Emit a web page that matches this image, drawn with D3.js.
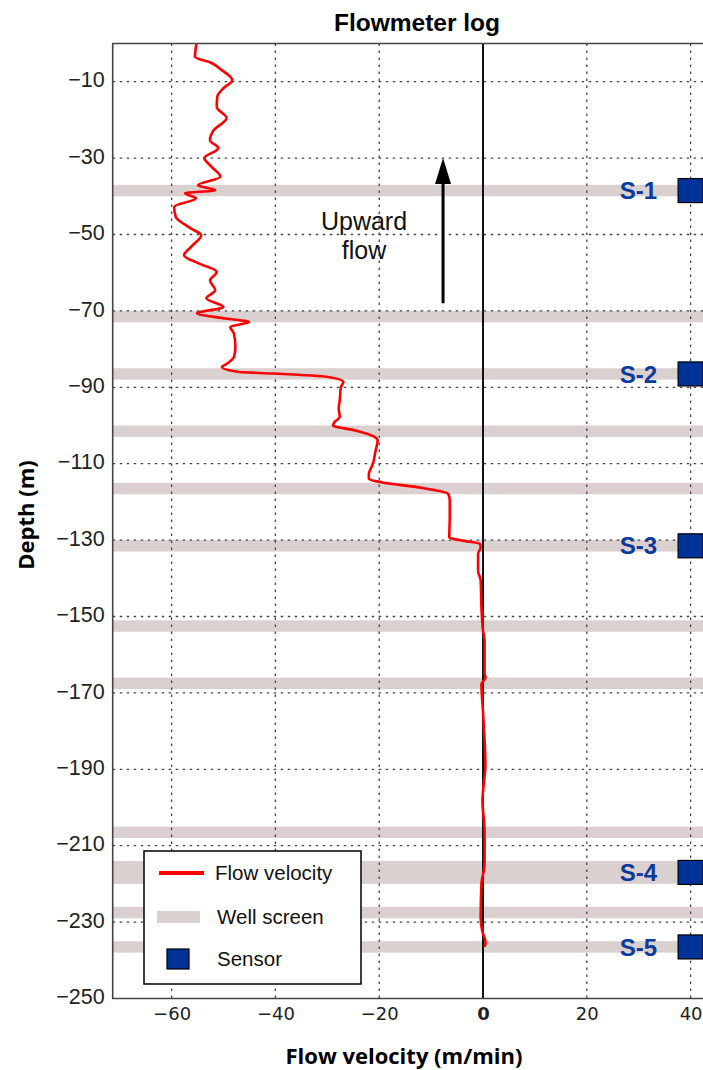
<!DOCTYPE html>
<html>
<head>
<meta charset="utf-8">
<script src="https://cdn.jsdelivr.net/npm/d3@7"></script>
<style>
  body { margin: 0; background: #fff; }
  svg { display: block; }
</style>
</head>
<body>
<svg id="chart" width="703" height="1070"></svg>
<script>
// Flowmeter profile: depth (m) and flow velocity (m/min)
const logDepth = [0, -3.5, -5.1, -6.9, -9.6, -11.7, -13.9, -16.6, -19.5, -22.7, -25.3, -27.4, -30.0, -32.3,
  -34.9, -37.1, -38.4, -39.2, -40.5, -42.8, -45.4, -48.4, -50.2, -53.3, -55.4, -57.5, -59.8, -62.0,
  -64.6, -66.7, -69.0, -70.6, -72.0, -72.9, -74.2, -75.9, -79.5, -82.1, -83.8, -84.7, -86.0, -86.4,
  -87.3, -88.6, -90.0, -93.4, -95.5, -97.8, -99.1, -100.0, -101.3, -102.9, -103.9, -106.6, -110.0,
  -112.7, -114.0, -114.9, -116.2, -117.9, -119.7, -124.0, -129.3, -130.1, -131.0, -131.9, -133.6,
  -138.0, -140.6, -147.6, -153.7, -156.3, -165.0, -166.0, -167.7, -175.0, -188.7, -198.3, -206.2,
  -214.8, -220.0, -229.0, -232.6, -235.3, -236.5];
const logVelocity = [-55.2, -55.5, -52.3, -50.4, -48.3, -50.0, -51.2, -51.3, -49.4, -51.9, -52.6, -51.0, -53.7, -52.3,
  -50.6, -54.9, -51.6, -57.4, -55.3, -59.5, -59.2, -56.3, -54.3, -56.3, -57.6, -54.9, -51.3, -52.6,
  -51.6, -53.3, -50.0, -55.1, -49.6, -45.1, -48.7, -48.0, -47.7, -48.0, -49.3, -50.3, -47.0, -40.5,
  -29.9, -26.9, -27.4, -27.6, -27.8, -27.6, -28.6, -28.9, -24.6, -21.0, -20.3, -20.7, -21.2,
  -22.0, -22.0, -19.4, -12.4, -6.7, -6.4, -6.4, -6.5, -4.1, -0.6, -0.45, -0.95,
  -0.95, -0.45, -0.3, 0, 0.3, 0.3, 0.5, -0.3, 0, 0.45, -0.1, 0.3,
  0.3, -0.3, -0.45, -0.1, 0.5, 0.3];

// Well screen intervals (top and bottom depth, m)
const screenTop    = [-37, -70, -85, -100, -115, -130, -151, -166, -205, -214, -226, -235];
const screenBottom = [-40, -73, -88, -103, -118, -133, -154, -169, -208, -220, -229, -238];

// Sensors
const sensorNames = ["S-1", "S-2", "S-3", "S-4", "S-5"];
const sensorDepth = [-38.5, -86.5, -131.5, -217, -236.5];
const sensorVelocity = 40;

// Axes
const depthTicks = [-10, -30, -50, -70, -90, -110, -130, -150, -170, -190, -210, -230, -250];
const velocityTicks = [-60, -40, -20, 0, 20, 40];

const legendLabels = ["Flow velocity", "Well screen", "Sensor"];

const svg = d3.select("#chart");

const plotLeft = 112.7, plotRight = 712, plotTop = 43.5, plotBottom = 998.5;
const x = d3.scaleLinear().domain([-60, 40]).range([171.6, 690.6]);
const y = d3.scaleLinear().domain([0, -250]).range([plotTop, plotBottom]);

const screenColor = "#dbd0d0";
const gridColor = "#444";
const blue = "#0a3a9c";

// Well screen bands
svg.append("g").selectAll("rect")
  .data(screenTop.map((t, i) => ({ top: t, bottom: screenBottom[i] })))
  .join("rect")
  .attr("x", plotLeft)
  .attr("width", plotRight - plotLeft)
  .attr("y", d => y(d.top))
  .attr("height", d => y(d.bottom) - y(d.top))
  .attr("fill", screenColor);

// Dotted grid
const grid = svg.append("g")
  .attr("stroke", gridColor)
  .attr("stroke-width", 1.3)
  .attr("stroke-dasharray", "2.5,4.5");
grid.selectAll("line.h")
  .data(depthTicks.filter(d => d > -250))
  .join("line")
  .attr("class", "h")
  .attr("x1", plotLeft).attr("x2", plotRight)
  .attr("y1", d => y(d)).attr("y2", d => y(d));
grid.selectAll("line.v")
  .data(velocityTicks.filter(d => d !== 0))
  .join("line")
  .attr("class", "v")
  .attr("x1", d => x(d)).attr("x2", d => x(d))
  .attr("y1", plotTop).attr("y2", plotBottom);

// Zero-velocity line
svg.append("line")
  .attr("x1", x(0)).attr("x2", x(0))
  .attr("y1", plotTop).attr("y2", plotBottom)
  .attr("stroke", "#111")
  .attr("stroke-width", 2);

// Frame
svg.append("path")
  .attr("d", `M${plotRight},${plotTop}H${plotLeft}V${plotBottom}H${plotRight}`)
  .attr("fill", "none")
  .attr("stroke", "#444")
  .attr("stroke-width", 1.6);

// Flow velocity profile
const line = d3.line()
  .x((d, i) => x(logVelocity[i]))
  .y(d => y(d))
  .curve(d3.curveMonotoneY);
svg.append("path")
  .attr("d", line(logDepth))
  .attr("fill", "none")
  .attr("stroke", "#ff0000")
  .attr("stroke-width", 2.6)
  .attr("stroke-linejoin", "round");

// Upward-flow arrow
const arrowV = -7.7, arrowFrom = -68, arrowTo = -30;
svg.append("line")
  .attr("x1", x(arrowV)).attr("x2", x(arrowV))
  .attr("y1", y(arrowFrom)).attr("y2", y(arrowTo) + 20)
  .attr("stroke", "#000").attr("stroke-width", 3);
svg.append("path")
  .attr("d", `M${x(arrowV)},${y(arrowTo)}l-8,26h16z`)
  .attr("fill", "#000");
const upText = svg.append("text")
  .attr("text-anchor", "middle")
  .attr("font-family", "Liberation Sans, Arial, sans-serif")
  .attr("font-size", 25)
  .attr("fill", "#111");
upText.append("tspan").attr("x", 364).attr("y", 230).text("Upward");
upText.append("tspan").attr("x", 364).attr("y", 259).text("flow");

// Sensors
const sensors = svg.append("g");
sensors.selectAll("rect")
  .data(sensorDepth)
  .join("rect")
  .attr("x", x(sensorVelocity) - 12.5)
  .attr("y", d => y(d) - 12)
  .attr("width", 25).attr("height", 24)
  .attr("fill", "#003399")
  .attr("stroke", "#000")
  .attr("stroke-width", 1.2);
sensors.selectAll("text")
  .data(sensorDepth)
  .join("text")
  .attr("x", 657)
  .attr("y", d => y(d))
  .attr("dy", "0.36em")
  .attr("text-anchor", "end")
  .attr("font-family", "Liberation Sans, Arial, sans-serif")
  .attr("font-weight", "bold")
  .attr("font-size", 24)
  .attr("fill", blue)
  .text((d, i) => sensorNames[i]);

// Tick labels
const xAxis = svg.append("g")
  .attr("transform", `translate(0,${plotBottom})`)
  .call(d3.axisBottom(x).tickValues(velocityTicks).tickSize(0).tickPadding(9));
xAxis.select(".domain").remove();
xAxis.selectAll("text")
  .attr("font-family", "DejaVu Sans, sans-serif")
  .attr("font-size", 18)
  .attr("fill", "#222")
  .attr("font-weight", d => d === 0 ? "bold" : "normal");

const yAxis = svg.append("g")
  .attr("transform", `translate(${plotLeft},0)`)
  .call(d3.axisLeft(y).tickValues(depthTicks).tickSize(0).tickPadding(8));
yAxis.select(".domain").remove();
yAxis.selectAll("text")
  .attr("font-family", "Liberation Sans, Arial, sans-serif")
  .attr("font-size", 21.5)
  .attr("fill", "#222")
  .attr("dy", "0.24em");

// Titles
svg.append("text")
  .attr("x", 417).attr("y", 31)
  .attr("text-anchor", "middle")
  .attr("font-family", "Liberation Sans, Arial, sans-serif")
  .attr("font-weight", "bold")
  .attr("font-size", 24.5)
  .text("Flowmeter log");
svg.append("text")
  .attr("x", 404).attr("y", 1064)
  .attr("text-anchor", "middle")
  .attr("font-family", "Open Sans, sans-serif")
  .attr("font-weight", "bold")
  .attr("font-size", 22)
  .text("Flow velocity (m/min)");
svg.append("text")
  .attr("transform", "translate(34,515) rotate(-90)")
  .attr("text-anchor", "middle")
  .attr("font-family", "Open Sans, sans-serif")
  .attr("font-weight", "bold")
  .attr("font-size", 22)
  .text("Depth (m)");

// Legend
const legend = svg.append("g").attr("transform", "translate(144,851)");
legend.append("rect")
  .attr("width", 217).attr("height", 133)
  .attr("fill", "#fff")
  .attr("stroke", "#000")
  .attr("stroke-width", 1.5);
const rowY = [22, 66, 108];
legend.append("line")
  .attr("x1", 15).attr("x2", 60)
  .attr("y1", rowY[0]).attr("y2", rowY[0])
  .attr("stroke", "#ff0000").attr("stroke-width", 4);
legend.append("rect")
  .attr("x", 13).attr("y", rowY[1] - 6)
  .attr("width", 43).attr("height", 12)
  .attr("fill", screenColor);
legend.append("rect")
  .attr("x", 23).attr("y", rowY[2] - 10)
  .attr("width", 22).attr("height", 20)
  .attr("fill", "#003399")
  .attr("stroke", "#000").attr("stroke-width", 1.2);
legend.selectAll("text.lab")
  .data(legendLabels)
  .join("text")
  .attr("class", "lab")
  .attr("x", (d, i) => i === 0 ? 71 : 73)
  .attr("y", (d, i) => rowY[i])
  .attr("dy", "0.36em")
  .attr("font-family", "Liberation Sans, Arial, sans-serif")
  .attr("font-size", 20.5)
  .attr("fill", "#111")
  .text(d => d);
</script>
</body>
</html>
